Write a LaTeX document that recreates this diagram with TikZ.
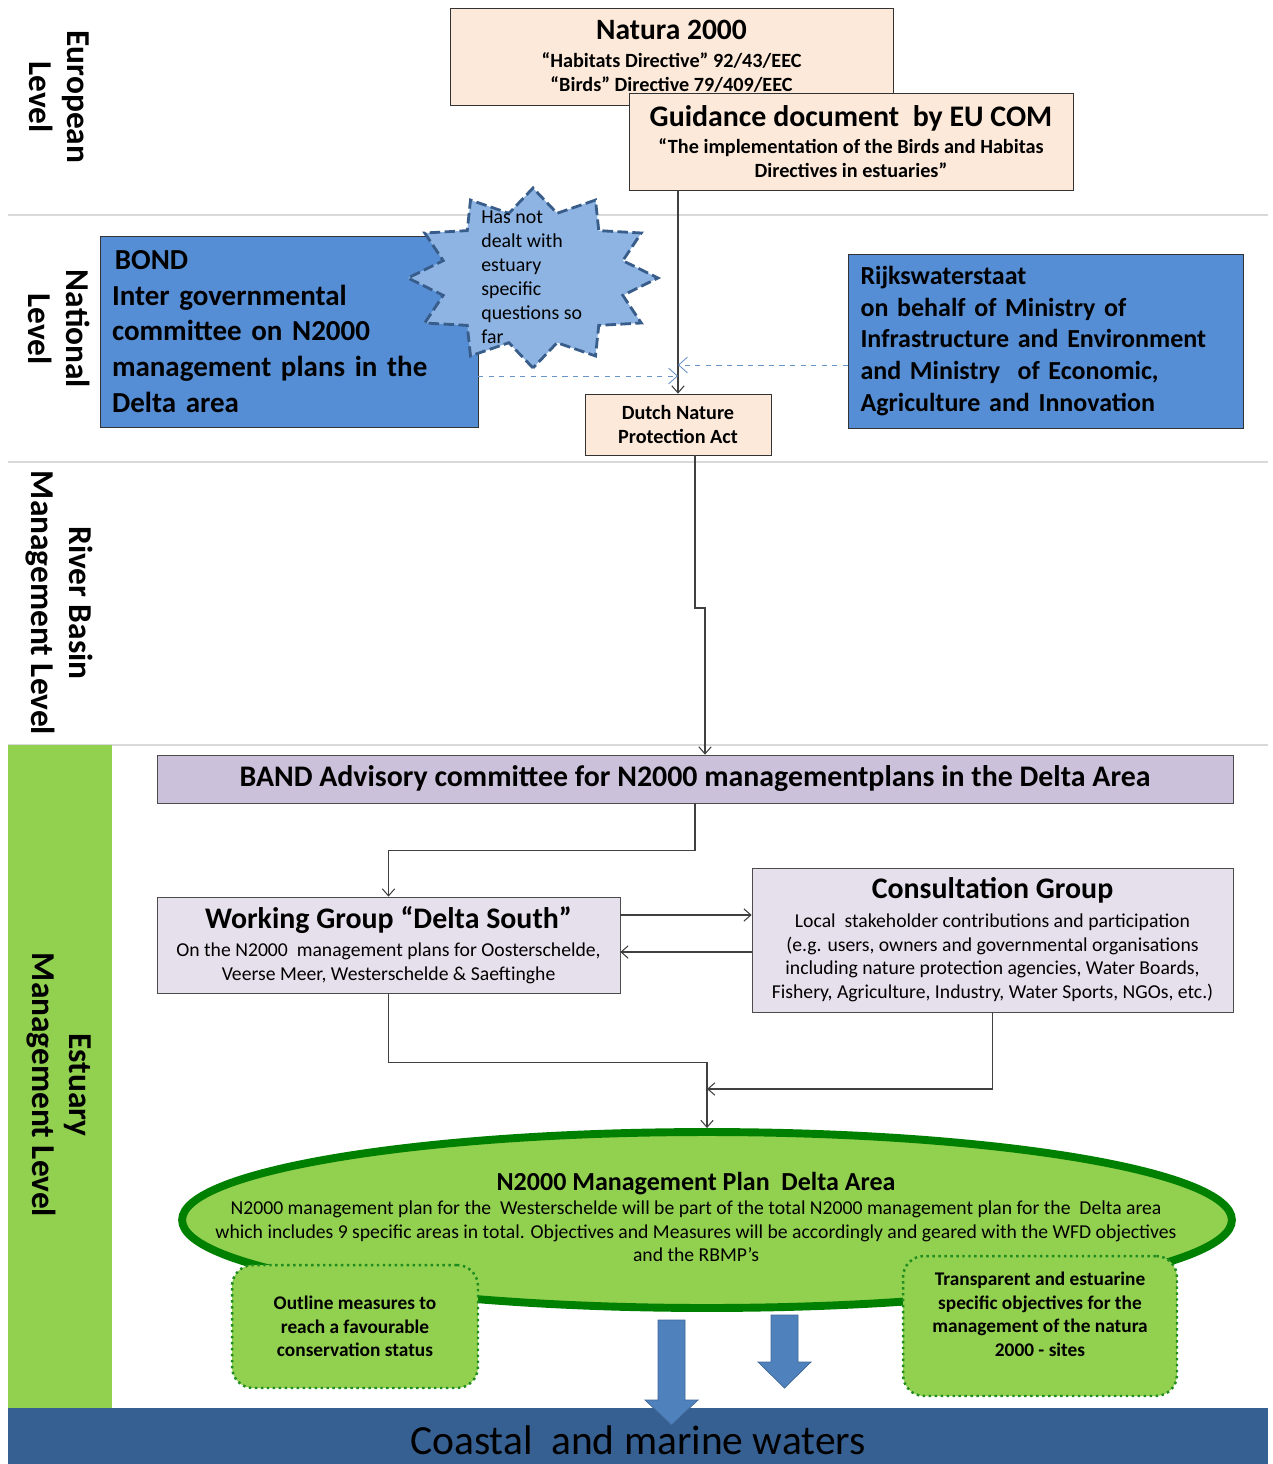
\documentclass[tikz,border=0pt]{standalone}
\usepackage{fontspec}
\setmainfont{Carlito}
\usepackage{tikz}
\usetikzlibrary{calc,positioning,arrows,arrows.meta,shapes}

\definecolor{peach}{HTML}{FDE9D9}
\definecolor{boxblue}{HTML}{558ED5}
\definecolor{starfill}{HTML}{8EB4E3}
\definecolor{starline}{HTML}{385D8A}
\definecolor{lavender}{HTML}{CCC1DA}
\definecolor{lightlav}{HTML}{E6E0EC}
\definecolor{leaf}{HTML}{92D050}
\definecolor{darkleaf}{HTML}{008000}
\definecolor{dotleaf}{HTML}{1E8C1E}
\definecolor{sea}{HTML}{376092}
\definecolor{flow}{HTML}{4F81BD}

\newcommand{\fs}[2]{\fontsize{#1}{#2}\selectfont}

\tikzset{
  peachbox/.style={draw=black!80, fill=peach, align=center, font=\bfseries\fs{11.5}{13.6}, inner sep=0pt},
  bluebox/.style={draw=black!80, fill=boxblue, align=left, font=\bfseries\fs{16.5}{20.4}, inner sep=0pt},
  lavbox/.style={draw=black!70, align=center, inner sep=0pt},
  dotbox/.style={draw=dotleaf, dotted, line width=1.4pt, fill=leaf, rounded corners=12pt, align=center, font=\bfseries\fs{11}{13.4}, inner sep=0pt},
  levelname/.style={rotate=-90, align=center, font=\bfseries\fs{19}{21.5}},
  conn/.style={draw=black!75, line width=0.6pt},
  hint/.style={draw=flow!85, dashed, line width=0.5pt, -{Straight Barb[length=5pt,width=9pt]}},
  sepline/.style={draw=black!15, line width=1.2pt},
  bigarrow/.style={fill=flow, draw=flow!80!black, line width=0.4pt}
}

\begin{document}
\begin{tikzpicture}[x=0.02cm, y=-0.02cm, >={Straight Barb[length=4pt,width=7pt]}]
  \useasboundingbox (0,0) rectangle (1273,1464);

  % levels
  \draw[sepline] (8,215) -- (1268,215);
  \draw[sepline] (8,462) -- (1268,462);
  \draw[sepline] (8,745) -- (1268,745);
  \fill[leaf] (8,745) rectangle (112,1408);

  \node[levelname] (european) at (59,97) {European\\Level};
  \node[levelname] (national) at (59,329) {National\\Level};
  \node[levelname] (riverbasin) at (59,603) {River Basin\\Management Level};
  \node[levelname] (estuary) at (59,1085) {Estuary\\Management Level};

  % european level
  \node[peachbox, minimum width=8.86cm, minimum height=1.94cm] (natura) at (671.5,56.5)
    {{\fs{16.8}{20}Natura 2000}\\[2.5pt]``Habitats Directive'' 92/43/EEC\\``Birds'' Directive 79/409/EEC};
  \node[peachbox, minimum width=8.88cm, minimum height=1.94cm] (guide) at (851,141.5)
    {{\fs{17}{20}Guidance document\ \ by EU COM}\\[2pt]``The implementation of the Birds and Habitas\\Directives in estuaries''};

  % national level
  \node[bluebox, minimum width=7.56cm, minimum height=3.82cm, text width=7.08cm] (bond) at (289,331.5)
    {\hspace{0.1em}BOND\\Inter governmental\\committee on N2000\\management plans in the\\Delta area};
  \node[bluebox, font=\bfseries\fs{14.8}{18.1}, minimum width=7.9cm, minimum height=3.48cm, text width=7.4cm] (rws) at (1045.5,341)
    {Rijkswaterstaat\\on behalf of Ministry of\\Infrastructure and Environment\\and Ministry\ \ of Economic,\\Agriculture and Innovation};
  \node[peachbox, font=\bfseries\fs{11.5}{13.6}, minimum width=3.72cm, minimum height=1.22cm] (dutch) at (678,424.5)
    {Dutch Nature\\Protection Act};

  \draw[fill=starfill, draw=starline, dashed, line width=1.6pt, dash pattern=on 6pt off 2.5pt, shift={(533,278)}]
    (90:125 and 90) \foreach \k in {0,...,11} { -- ({105+30*\k}:93 and 67) -- ({120+30*\k}:125 and 90) } -- cycle;
  \node[anchor=west, align=left, inner sep=0pt, font=\fs{11.3}{13.6}] (note) at (481,277)
    {Has not\\dealt with\\estuary\\specific\\questions so\\far};

  \coordinate (bondout) at (478,376);
  \coordinate (rwsout) at (848,365);
  \draw[conn, ->] (dutch.north |- guide.south) -- (dutch.north);
  \draw[hint] (bondout) -- (bondout -| dutch.north);
  \draw[hint] (rwsout) -- (rwsout -| dutch.north);

  % estuary level
  \node[lavbox, fill=lavender, minimum width=21.52cm, minimum height=0.96cm, font=\bfseries\fs{17}{19}] (band) at (695,779)
    {BAND Advisory committee for N2000 managementplans in the Delta Area};
  \node[lavbox, fill=lightlav, minimum width=9.26cm, minimum height=1.92cm, font=\fs{11.2}{13.6}] (wg) at (388.5,945)
    {{\bfseries\fs{17}{19}Working Group ``Delta South''}\\[2.5pt]On the N2000\ \ management plans for Oosterschelde,\\Veerse Meer, Westerschelde \& Saeftinghe};
  \node[lavbox, fill=lightlav, minimum width=9.62cm, minimum height=2.88cm, font=\fs{11.2}{13.6}] (cg) at (992.5,940)
    {{\bfseries\fs{17}{19}Consultation Group}\\[2.5pt]Local\ \ stakeholder contributions\ and participation\\(e.g. users, owners and governmental organisations\\including nature protection agencies, Water Boards,\\Fishery, Agriculture, Industry, Water Sports, NGOs, etc.)};

  \coordinate (jog) at (705,608);
  \draw[conn, ->] (dutch.south -| 695,0) |- (jog) -- (jog |- band.north);
  \draw[conn, ->] (band.south) -- ++(0,47) -| (wg.north);
  \coordinate (wgout) at (620,915);
  \coordinate (cgout) at (752,952);
  \draw[conn, ->] (wgout) -- (wgout -| cg.west);
  \draw[conn, ->] (cgout) -- (cgout -| wg.east);

  \node[ellipse, draw=darkleaf, line width=4.5pt, fill=leaf, minimum width=21cm, minimum height=3.52cm, inner sep=0pt] (plan) at (707,1220) {};
  \node[align=center, inner sep=0pt, font=\fs{11.2}{13.6}] (plantext) at (696,1217)
    {{\bfseries\fs{14.8}{16}N2000 Management Plan\ \ Delta Area}\\N2000 management plan for the\ \ Westerschelde will be part of the total N2000 management plan for the\ \ Delta area\\which includes 9 specific areas in total. Objectives and Measures will be accordingly and geared with the WFD objectives\\and the RBMP's};

  \coordinate (merge) at (707,1089);
  \draw[conn, ->] (wg.south) -- ++(0,69) -| (plan.north);
  \draw[conn, ->] (cg.south) |- (merge);

  % sea and outputs
  \fill[sea] (8,1408) rectangle (1268,1464);
  \node[font=\fs{23.6}{27}] (coast) at (638,1440) {Coastal\ \ and marine waters};

  \node[dotbox, minimum width=4.92cm, minimum height=2.46cm] (outline) at (355,1326.5)
    {Outline measures to\\reach a favourable\\conservation status};
  \node[dotbox, minimum width=5.48cm, minimum height=2.8cm] (goals) at (1040,1326)
    {Transparent and estuarine\\specific objectives for the\\management of the natura\\2000 - sites\\[0pt]};

  \draw[bigarrow] (658,1320) -- (685,1320) -- (685,1400) -- (698,1400) -- (671.5,1425) -- (645,1400) -- (658,1400) -- cycle;
  \draw[bigarrow] (771,1315) -- (798,1315) -- (798,1362) -- (811,1362) -- (784.5,1388) -- (758,1362) -- (771,1362) -- cycle;
\end{tikzpicture}
\end{document}
